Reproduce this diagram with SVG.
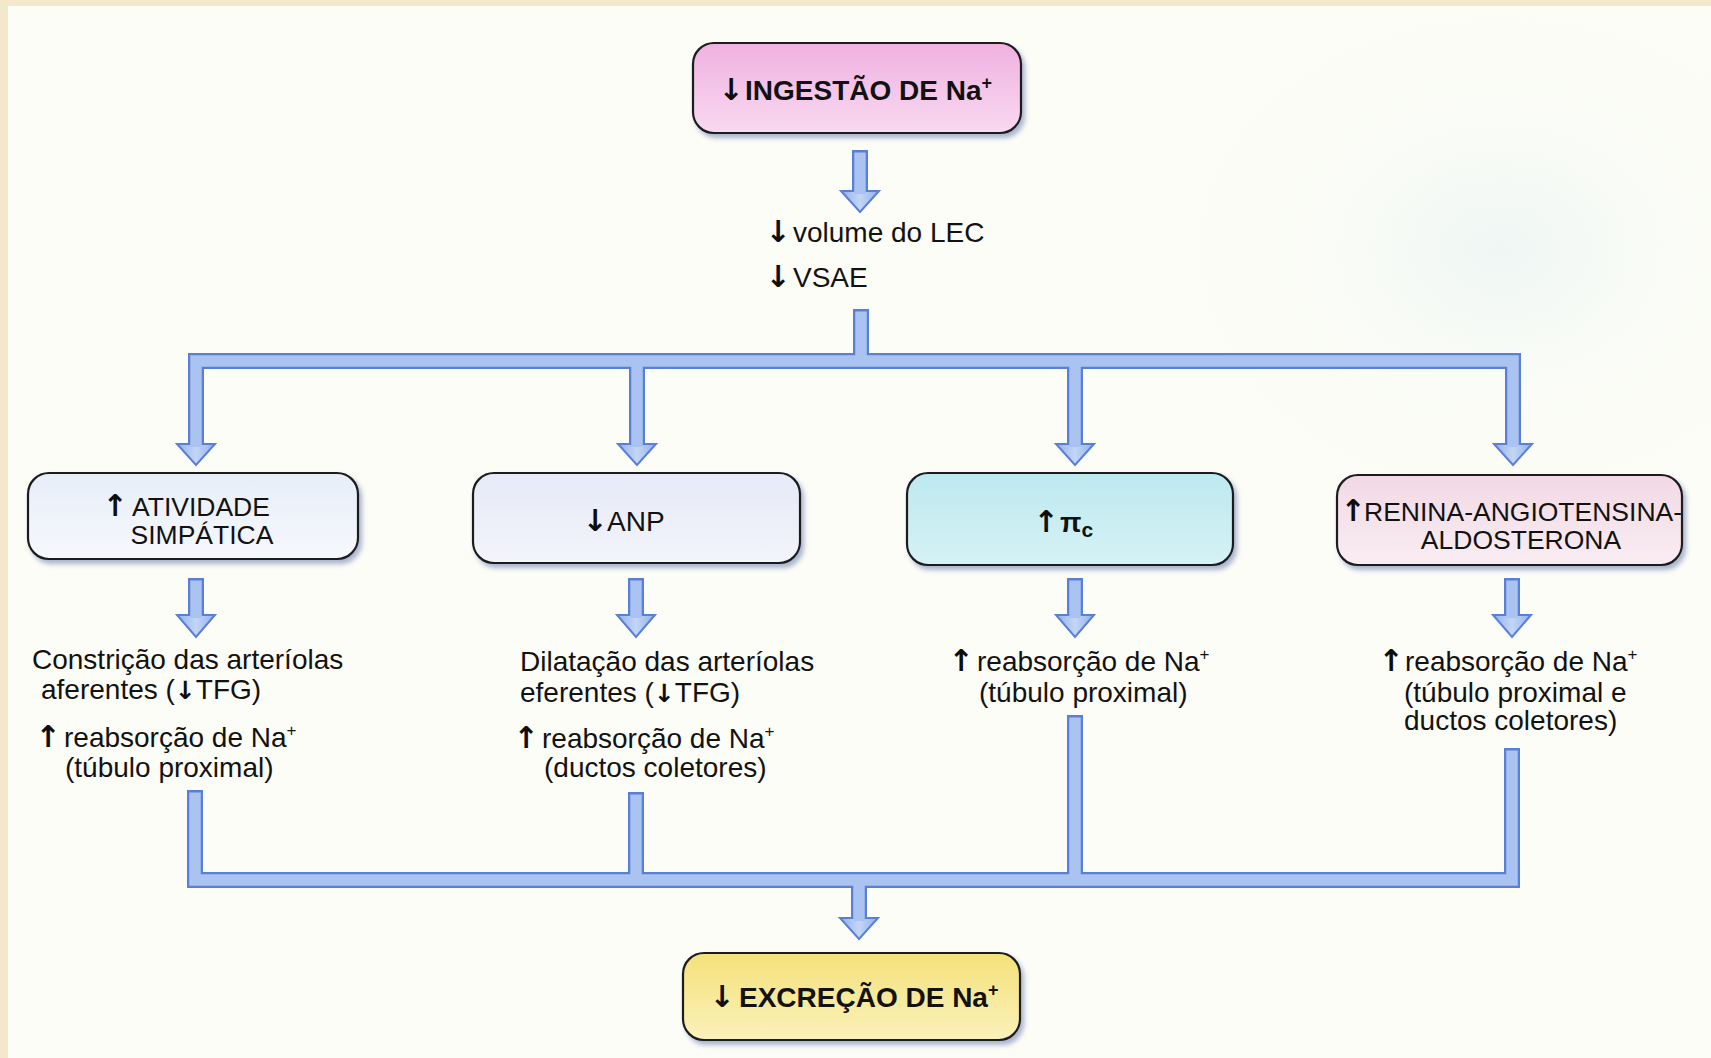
<svg xmlns="http://www.w3.org/2000/svg" width="1711" height="1058" viewBox="0 0 1711 1058">
  <defs>
    <style>
      .t { font-family: "Liberation Sans", Arial, sans-serif; font-size: 28px; fill: #121212; }
      .bx { font-size: 26.5px; }
      .b { font-weight: bold; }
      .arw { font-family: "DejaVu Sans", "Liberation Sans", sans-serif; font-weight: bold; font-size: 30px; fill: #0e0e0e; text-anchor: middle; }
      .arw-in { font-family: "DejaVu Sans", "Liberation Sans", sans-serif; font-weight: bold; font-size: 25px; fill: #0e0e0e; }
      .box { stroke: #1c1c1c; stroke-width: 2.2; filter: url(#shadow); }
      .pipe-out { fill: none; stroke: #5a7fd8; stroke-width: 16; stroke-linejoin: miter; stroke-linecap: butt; }
      .pipe-in { fill: none; stroke: #aac3f1; stroke-width: 11.5; stroke-linejoin: miter; stroke-linecap: butt; }
      .head { fill: url(#headFill); stroke: #5a7fd8; stroke-width: 2; stroke-linejoin: miter; }
    </style>
    <filter id="shadow" x="-10%" y="-20%" width="125%" height="150%">
      <feDropShadow dx="3" dy="4" stdDeviation="2.5" flood-color="#3f5a9c" flood-opacity="0.45"/>
    </filter>
    <linearGradient id="headFill" x1="0" y1="0" x2="1" y2="0">
      <stop offset="0" stop-color="#8fb0ec"/>
      <stop offset="0.5" stop-color="#c4d6f7"/>
      <stop offset="1" stop-color="#8fb0ec"/>
    </linearGradient>
    <linearGradient id="gPink" x1="0" y1="0" x2="0" y2="1">
      <stop offset="0" stop-color="#efb1e1"/>
      <stop offset="1" stop-color="#f8d9f0"/>
    </linearGradient>
    <linearGradient id="gBlue1" x1="0" y1="0" x2="0" y2="1">
      <stop offset="0" stop-color="#e7eef9"/>
      <stop offset="1" stop-color="#f6f8fc"/>
    </linearGradient>
    <linearGradient id="gLav" x1="0" y1="0" x2="0" y2="1">
      <stop offset="0" stop-color="#e6e9f7"/>
      <stop offset="1" stop-color="#f3f4fb"/>
    </linearGradient>
    <linearGradient id="gCyan" x1="0" y1="0" x2="0" y2="1">
      <stop offset="0" stop-color="#bde9ef"/>
      <stop offset="1" stop-color="#d6f2f5"/>
    </linearGradient>
    <linearGradient id="gRose" x1="0" y1="0" x2="0" y2="1">
      <stop offset="0" stop-color="#f2d9e5"/>
      <stop offset="1" stop-color="#f9edf2"/>
    </linearGradient>
    <linearGradient id="gYellow" x1="0" y1="0" x2="0" y2="1">
      <stop offset="0" stop-color="#f4e17a"/>
      <stop offset="1" stop-color="#fbf1bb"/>
    </linearGradient>
    <radialGradient id="tint" cx="0.5" cy="0.5" r="0.5">
      <stop offset="0" stop-color="#e9f4f3" stop-opacity="0.7"/>
      <stop offset="1" stop-color="#fdfdf7" stop-opacity="0"/>
    </radialGradient>
  </defs>

  <!-- page -->
  <rect x="0" y="0" width="1711" height="1058" fill="#fdfdf7"/>
  <ellipse cx="1500" cy="250" rx="360" ry="280" fill="url(#tint)"/>
  <rect x="0" y="0" width="1711" height="6" fill="#f3e8cb"/>
  <rect x="0" y="0" width="8" height="1058" fill="#f3e8cb"/>

  <!-- connectors -->
  <g id="connectors">
    <!-- outlines -->
    <path class="pipe-out" d="M860 150 V194"/>
    <path class="pipe-out" d="M861 309 V361"/>
    <path class="pipe-out" d="M196 446 V361 H1513 V446 M637 361 V446 M1075 361 V446"/>
    <path class="pipe-out" d="M196 578 V617 M636 578 V617 M1075 578 V617 M1512 578 V617"/>
    <path class="pipe-out" d="M195 790 V880 H1512 V748 M636 792 V880 M1075 715 V880 M859 880 V920"/>
    <!-- heads -->
    <polygon class="head" points="841,191 879,191 860,212"/>
    <polygon class="head" points="177,444 215,444 196,465"/>
    <polygon class="head" points="618,444 656,444 637,465"/>
    <polygon class="head" points="1056,444 1094,444 1075,465"/>
    <polygon class="head" points="1494,444 1532,444 1513,465"/>
    <polygon class="head" points="177,615 215,615 196,637"/>
    <polygon class="head" points="617,615 655,615 636,637"/>
    <polygon class="head" points="1056,615 1094,615 1075,637"/>
    <polygon class="head" points="1493,615 1531,615 1512,637"/>
    <polygon class="head" points="840,918 878,918 859,939"/>
    <!-- fills -->
    <path class="pipe-in" d="M860 152.5 V194"/>
    <path class="pipe-in" d="M861 311.5 V361"/>
    <path class="pipe-in" d="M196 447 V361 H1513 V447 M637 361 V447 M1075 361 V447"/>
    <path class="pipe-in" d="M196 580.5 V618 M636 580.5 V618 M1075 580.5 V618 M1512 580.5 V618"/>
    <path class="pipe-in" d="M195 792.5 V880 H1512 V750.5 M636 794.5 V880 M1075 717.5 V880 M859 880 V921"/>
  </g>

  <!-- top node -->
  <g id="n-ingestao">
    <rect class="box" x="693" y="43" width="328" height="90" rx="21" fill="url(#gPink)"/>
    <text class="t b" y="100" font-size="28.5"><tspan class="arw" x="731" font-size="32">↓</tspan><tspan x="745">INGESTÃO DE Na</tspan><tspan font-size="18" dy="-11">+</tspan></text>
  </g>

  <!-- volume / VSAE -->
  <g id="n-volume">
    <text class="t" y="242" font-size="29.5"><tspan class="arw" x="778">↓</tspan><tspan x="793">volume do LEC</tspan></text>
    <text class="t" y="287" font-size="29.5"><tspan class="arw" x="778">↓</tspan><tspan x="793">VSAE</tspan></text>
  </g>

  <!-- four mechanism nodes -->
  <g id="n-simpatica">
    <rect class="box" x="28" y="473" width="330" height="86" rx="21" fill="url(#gBlue1)"/>
    <text class="t bx" y="516"><tspan class="arw" x="115">↑</tspan><tspan x="132">ATIVIDADE</tspan></text>
    <text class="t bx" x="202" y="544" text-anchor="middle">SIMPÁTICA</text>
  </g>

  <g id="n-anp">
    <rect class="box" x="473" y="473" width="327" height="90" rx="21" fill="url(#gLav)"/>
    <text class="t" y="531"><tspan class="arw" x="595">↓</tspan><tspan x="607">ANP</tspan></text>
  </g>

  <g id="n-pic">
    <rect class="box" x="907" y="473" width="326" height="92" rx="21" fill="url(#gCyan)"/>
    <text class="t b" y="532" font-size="33"><tspan class="arw" x="1046">↑</tspan><tspan x="1060">π</tspan><tspan font-size="21" dy="5">c</tspan></text>
  </g>

  <g id="n-raa">
    <rect class="box" x="1337" y="475" width="345" height="90" rx="21" fill="url(#gRose)"/>
    <text class="t bx" y="521" font-size="25.5"><tspan class="arw" x="1353">↑</tspan><tspan x="1364">RENINA-ANGIOTENSINA-</tspan></text>
    <text class="t bx" x="1521" y="549" text-anchor="middle" font-size="26">ALDOSTERONA</text>
  </g>

  <!-- effect texts -->
  <g id="n-efeito-simpatica">
    <text class="t" x="32" y="669">Constrição das arteríolas</text>
    <text class="t" x="41" y="699">aferentes (<tspan class="arw-in">↓</tspan>TFG)</text>
    <text class="t" y="747"><tspan class="arw" x="48">↑</tspan><tspan x="64">reabsorção de Na</tspan><tspan font-size="17" dy="-11">+</tspan></text>
    <text class="t" x="65" y="777">(túbulo proximal)</text>
  </g>

  <g id="n-efeito-anp">
    <text class="t" x="520" y="671">Dilatação das arteríolas</text>
    <text class="t" x="520" y="702">eferentes (<tspan class="arw-in">↓</tspan>TFG)</text>
    <text class="t" y="748"><tspan class="arw" x="526">↑</tspan><tspan x="542">reabsorção de Na</tspan><tspan font-size="17" dy="-11">+</tspan></text>
    <text class="t" x="544" y="777">(ductos coletores)</text>
  </g>

  <g id="n-efeito-pic">
    <text class="t" y="671"><tspan class="arw" x="961">↑</tspan><tspan x="977">reabsorção de Na</tspan><tspan font-size="17" dy="-11">+</tspan></text>
    <text class="t" x="979" y="702">(túbulo proximal)</text>
  </g>

  <g id="n-efeito-raa">
    <text class="t" y="671"><tspan class="arw" x="1391">↑</tspan><tspan x="1405">reabsorção de Na</tspan><tspan font-size="17" dy="-11">+</tspan></text>
    <text class="t" x="1404" y="702">(túbulo proximal e</text>
    <text class="t" x="1404" y="730">ductos coletores)</text>
  </g>

  <!-- bottom node -->
  <g id="n-excrecao">
    <rect class="box" x="683" y="953" width="337" height="87" rx="21" fill="url(#gYellow)"/>
    <text class="t b" y="1007" font-size="28.5"><tspan class="arw" x="722" font-size="32">↓</tspan><tspan x="739">EXCREÇÃO DE Na</tspan><tspan font-size="18" dy="-11">+</tspan></text>
  </g>
</svg>
